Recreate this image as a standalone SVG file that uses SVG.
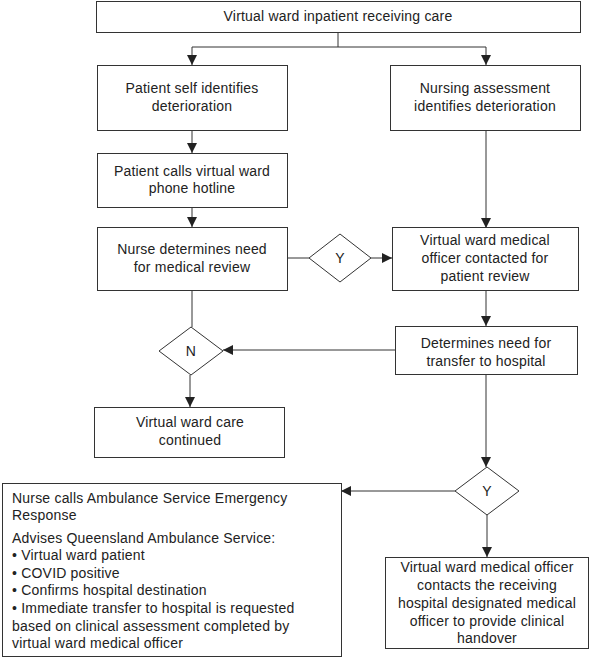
<svg xmlns="http://www.w3.org/2000/svg" width="590" height="658" viewBox="0 0 590 658">
<style>
.box{fill:#fff;stroke:#333;stroke-width:1}
.ln{fill:none;stroke:#333;stroke-width:1}
text{font-family:"Liberation Sans",Arial,sans-serif;font-size:14px;letter-spacing:0.2px;fill:#222}
.c{text-anchor:middle}
</style>
<defs>
<marker id="ah" viewBox="0 0 10 10" refX="10" refY="5" markerWidth="10" markerHeight="10" markerUnits="userSpaceOnUse" orient="auto">
<path d="M0,0 L10,5 L0,10 z" fill="#222"/>
</marker>
</defs>
<rect width="590" height="658" fill="#fff"/>
<g id="connectors">
<path class="ln" d="M338,32 V47"/>
<path class="ln" d="M192,47 H486"/>
<path class="ln" d="M192,47 V65" marker-end="url(#ah)"/>
<path class="ln" d="M486,47 V65" marker-end="url(#ah)"/>
<path class="ln" d="M192,130 V153" marker-end="url(#ah)"/>
<path class="ln" d="M192,207 V227" marker-end="url(#ah)"/>
<path class="ln" d="M287,258 H309"/>
<path class="ln" d="M371,258 H392" marker-end="url(#ah)"/>
<path class="ln" d="M486,130 V228" marker-end="url(#ah)"/>
<path class="ln" d="M486,290 V326" marker-end="url(#ah)"/>
<path class="ln" d="M192,290 V327"/>
<path class="ln" d="M395,350 H223" marker-end="url(#ah)"/>
<path class="ln" d="M190,375 V407" marker-end="url(#ah)"/>
<path class="ln" d="M486,374 V467" marker-end="url(#ah)"/>
<path class="ln" d="M455,491 H341" marker-end="url(#ah)"/>
<path class="ln" d="M487,515 V557" marker-end="url(#ah)"/>
</g>
<g id="n-top"><rect class="box" x="96.5" y="1.5" width="484" height="31"/><text class="c" x="338" y="21">Virtual ward inpatient receiving care</text></g>
<g id="n-self"><rect class="box" x="97.5" y="65.5" width="190" height="65"/><text class="c" x="192" y="93">Patient self identifies</text><text class="c" x="192" y="111">deterioration</text></g>
<g id="n-nursing"><rect class="box" x="390.5" y="65.5" width="190" height="65"/><text class="c" x="485" y="93">Nursing assessment</text><text class="c" x="485" y="111">identifies deterioration</text></g>
<g id="n-calls"><rect class="box" x="97.5" y="153.5" width="190" height="54"/><text class="c" x="192" y="176">Patient calls virtual ward</text><text class="c" x="192" y="193">phone hotline</text></g>
<g id="n-nurse"><rect class="box" x="97.5" y="227.5" width="190" height="63"/><text class="c" x="192" y="254">Nurse determines need</text><text class="c" x="192" y="272">for medical review</text></g>
<g id="d-y1"><path class="box" d="M309,258 L340,234 L371,258 L340,282 z"/><text class="c" x="340" y="263">Y</text></g>
<g id="n-mo"><rect class="box" x="392.5" y="227.5" width="186" height="63"/><text class="c" x="485" y="245">Virtual ward medical</text><text class="c" x="485" y="263">officer contacted for</text><text class="c" x="485" y="281">patient review</text></g>
<g id="n-transfer"><rect class="box" x="395.5" y="326.5" width="182" height="48"/><text class="c" x="486" y="348">Determines need for</text><text class="c" x="486" y="366">transfer to hospital</text></g>
<g id="d-n"><path class="box" d="M159,351 L191,327 L223,351 L191,375 z"/><text class="c" x="191" y="356">N</text></g>
<g id="n-continued"><rect class="box" x="94.5" y="407.5" width="190" height="50"/><text class="c" x="190" y="427">Virtual ward care</text><text class="c" x="190" y="445">continued</text></g>
<g id="d-y2"><path class="box" d="M455,491 L487,467 L519,491 L487,515 z"/><text class="c" x="487" y="496">Y</text></g>
<g id="n-ambulance"><rect class="box" x="2.5" y="483.5" width="339" height="173"/>
<text x="12" y="503">Nurse calls Ambulance Service Emergency</text>
<text x="12" y="520">Response</text>
<text x="12" y="543">Advises Queensland Ambulance Service:</text>
<text x="12" y="560">• Virtual ward patient</text>
<text x="12" y="578">• COVID positive</text>
<text x="12" y="595">• Confirms hospital destination</text>
<text x="12" y="613">• Immediate transfer to hospital is requested</text>
<text x="12" y="631">based on clinical assessment completed by</text>
<text x="12" y="648">virtual ward medical officer</text>
</g>
<g id="n-handover"><rect class="box" x="385.5" y="557.5" width="203" height="91"/>
<text class="c" x="487" y="572">Virtual ward medical officer</text>
<text class="c" x="487" y="590">contacts the receiving</text>
<text class="c" x="487" y="608">hospital designated medical</text>
<text class="c" x="487" y="626">officer to provide clinical</text>
<text class="c" x="487" y="643">handover</text>
</g>
</svg>
